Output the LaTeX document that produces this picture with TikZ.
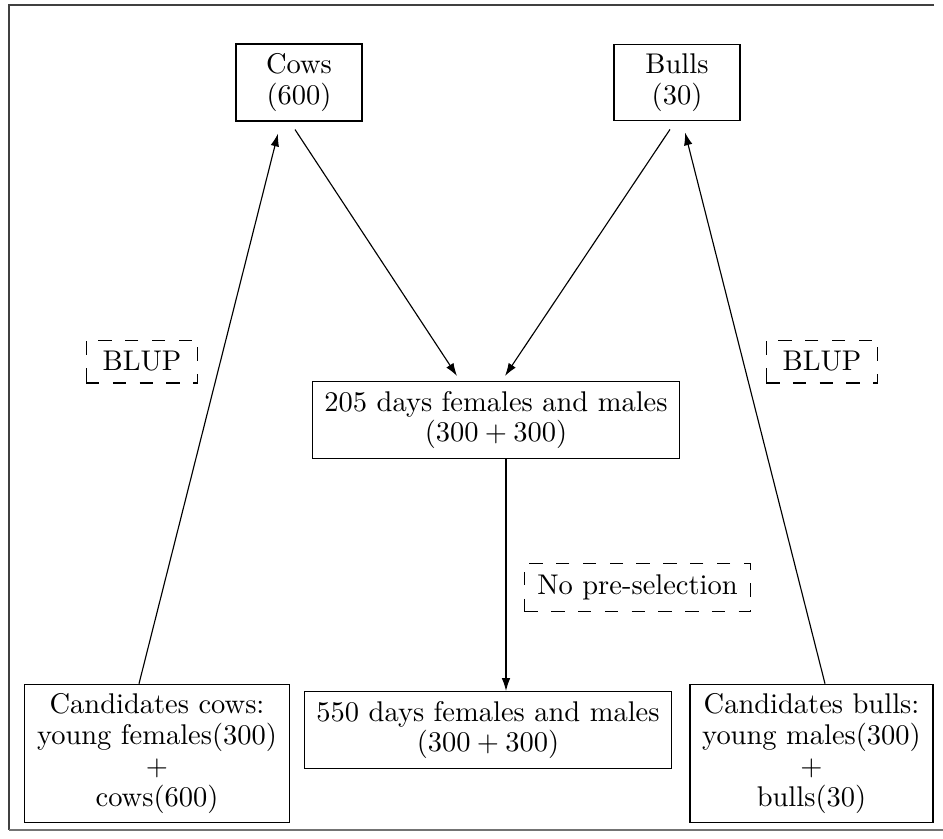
\documentclass[tikz,border=0pt]{standalone}
\usetikzlibrary{arrows.meta,calc}
\begin{document}
\begin{tikzpicture}[x=0.351pt,y=-0.351pt,
 every node/.style={font=\fontsize{10}{10.8}\selectfont},
 box/.style={draw,align=center,inner xsep=4.3pt,inner ysep=3.33pt},
 tag/.style={draw,dash pattern=on 4.7pt off 4.7pt,inner xsep=4.5pt,inner ysep=4pt},
 arr/.style={-{Latex[length=4.5pt,width=3pt]}}]
\useasboundingbox (0,0) rectangle (943,838);
\draw[black!75] (934,5) -- (9,5) -- (9,830);
\draw[black!55] (9,830) -- (943,830);
\node[box,minimum width=44.2pt] (cows) at (299,82.5) {Cows\\(600)};
\node[box,minimum width=44.2pt] (bulls) at (677,82.5) {Bulls\\(30)};
\node[box] (d205) at (496,420) {205 days females and males\\$(300+300)$};
\node[box] (d550) at (488,730) {550 days females and males\\$(300+300)$};
\node[box] (cc) at (157,753.5) {Candidates cows:\\young females(300)\\$+$\\cows(600)};
\node[box] (cb) at (811.5,753.5) {Candidates bulls:\\young males(300)\\$+$\\bulls(30)};
\node[tag,inner xsep=5.8pt] (blupa) at (142,361.5) {BLUP};
\node[tag,inner xsep=5.8pt] (blupb) at (822,361.5) {BLUP};
\node[tag] (nps) at (637.5,587.5) {No pre-selection};
\draw[arr] ($(cc.north)+(-18,0)$) -- ($(cows.south)+(-21,12)$);
\draw[arr] ($(cows.south)+(-4,8)$) -- ($(d205.north)+(-39,-5)$);
\draw[arr] ($(bulls.south)+(-7,8)$) -- ($(d205.north)+(9,-5)$);
\draw[arr] ($(cb.north)+(13.5,0)$) -- ($(bulls.south)+(8,11)$);
\coordinate (vtop) at ($(d205.south)+(10,0)$);
\draw[arr] (vtop) -- (vtop |- d550.north);
\end{tikzpicture}
\end{document}
